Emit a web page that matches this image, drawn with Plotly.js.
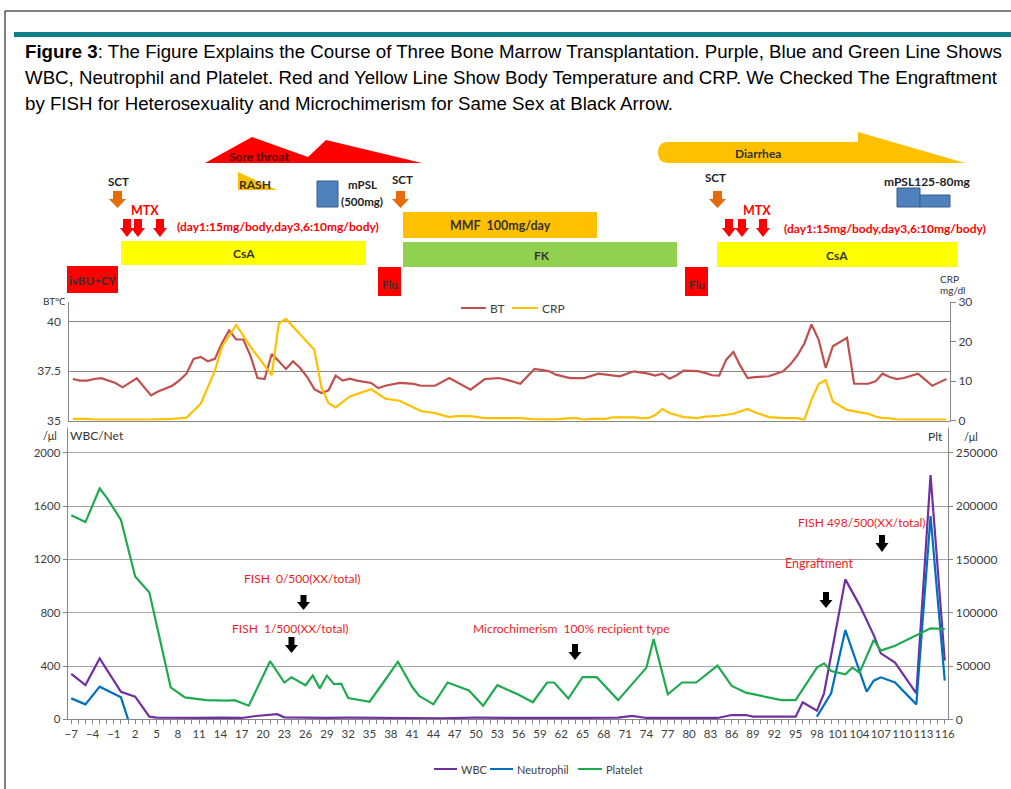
<!DOCTYPE html>
<html><head><meta charset="utf-8">
<script src="https://cdn.plot.ly/plotly-3.0.1.min.js"></script>
<style>html,body{margin:0;padding:0;background:#fff}#chart{width:1011px;height:789px}</style>
</head><body><div id="chart"></div>
<script>
// ---------------- DATA ----------------
// Body temperature (°C), by day after first transplant
const btDays = [-7,-6,-5,-4,-3,-2,-1,0,1,2,3,4,5,6,7,8,9,10,11,12,13,14,15,16,17,18,19,20,21,22,23,24,25,26,27,28,29,30,31,32,33,35,36,37,39,41,42,44,46,49,51,53,54,56,58,60,61,63,65,67,69,70,72,74,75,76,77,78,79,81,82,83,84,85,86,87,88,89,91,92,93,94,95,96,97,98,99,100,101,102,103,104,105,106,107,108,109,110,111,112,113,114,115,116];
const btValues = [37.10,37.02,37.02,37.10,37.14,37.02,36.90,36.68,36.93,37.14,36.70,36.27,36.47,36.61,36.76,37.03,37.37,38.12,38.22,38.00,38.12,38.93,39.56,39.10,39.10,38.29,37.15,37.10,38.37,38.00,37.61,38.00,37.66,37.20,36.59,36.39,36.53,37.27,37.02,37.12,37.02,36.90,36.64,36.76,36.90,36.85,36.76,36.76,37.15,36.56,37.10,37.15,37.07,36.86,37.61,37.50,37.32,37.15,37.15,37.37,37.27,37.24,37.49,37.37,37.27,37.37,37.12,37.29,37.53,37.50,37.41,37.29,37.27,38.08,38.47,37.75,37.15,37.20,37.24,37.36,37.49,37.83,38.29,38.90,39.86,39.10,37.66,38.76,38.97,39.19,36.86,36.86,36.86,36.98,37.37,37.20,37.10,37.15,37.27,37.37,37.07,36.76,36.93,37.10];
// CRP (mg/dl)
const crpDays = [-7,-5,-4,4,7,9,11,13,14,16,18,20,21,22,23,27,28,29,30,32,35,37,39,42,44,46,47,49,51,53,56,58,61,63,64,65,66,68,69,72,73,74,75,76,77,79,81,82,84,86,88,89,91,93,95,96,97,98,99,100,102,104,105,106,107,108,109,111,116];
const crpValues = [0.4,0.4,0.2,0.2,0.4,0.7,4.2,12.6,18.7,24.2,18.7,14.1,11.5,24.6,25.7,17.9,8.4,4.4,3.3,6.1,7.9,5.5,5.0,2.4,1.85,0.84,1.1,1.1,0.6,0.6,0.6,0.3,0.3,0.6,0.6,0.2,0.4,0.4,0.8,0.8,0.6,0.6,1.4,2.9,1.9,0.85,0.6,1.0,1.2,1.7,2.9,2.1,0.85,0.6,0.6,0.2,5.3,9.2,10.2,4.8,2.7,2.0,1.7,1.0,0.6,0.6,0.2,0.2,0.2];
// WBC (/μl)
const wbcDays = [-7,-5,-3,0,2,4,5,8,11,14,17,19,21,22,23,26,29,32,35,40,45,50,55,60,65,70,72,74,80,84,86,88,89,95,96,98,99,102,104,106,107,109,112,114,116];
const wbcValues = [340,257,457,207,170,20,12,10,10,12,10,25,35,38,15,12,10,12,10,12,8,12,10,12,10,12,25,10,10,10,32,32,20,20,127,65,195,1050,857,632,495,425,195,1832,440];
// Neutrophil (/μl); null = not measured / not plotted
const neutDays = [-7,-5,-3,0,1,null,98,100,102,104,105,106,107,109,112,114,116];
const neutValues = [157,112,245,165,0,null,20,195,670,350,207,290,315,277,112,1525,290];
// Platelet (/μl), right axis
const pltDays = [-7,-5,-3,-2,0,2,4,7,9,12,15,16,18,21,23,24,26,27,28,29,30,31,32,35,37,39,41,42,44,46,49,51,53,56,58,60,61,63,65,67,70,74,75,77,79,81,84,86,88,92,93,95,98,99,100,102,103,104,106,107,109,114,116];
const pltValues = [191500,185000,216500,208000,187000,134000,119000,30000,20500,18000,17500,18000,12800,54500,34500,39500,32000,41000,29000,41000,33000,33500,20000,16500,35000,54000,30500,22000,14000,34500,27000,12800,32000,23000,16000,34500,34500,19500,39500,39500,18000,48500,75300,23500,34500,34500,50300,31300,25000,19000,18000,18000,48500,52500,45300,42200,48400,43800,74400,64400,69000,85300,84700];

// Axis tick values / labels
const btTicks = [35, 37.5, 40];
const crpTicks = [0, 10, 20, 30];
const cellTicks = [0, 400, 800, 1200, 1600, 2000];
const pltTicks = [0, 50000, 100000, 150000, 200000, 250000];

// Caption text
const captionLines = [
  "<b>Figure 3</b>: The Figure Explains the Course of Three Bone Marrow Transplantation. Purple, Blue and Green Line Shows",
  "WBC, Neutrophil and Platelet. Red and Yellow Line Show Body Temperature and CRP. We Checked The Engraftment",
  "by FISH for Heterosexuality and Microchimerism for Same Sex at Black Arrow."
];

// ---------------- STYLE / LAYOUT ----------------
const W = 1011, H = 789;
const X = p => p / W;
const Y = p => 1 - p / H;
const CF = 'Lato, "Noto Sans", sans-serif';
const TICK = '#404040';
const AX = '#868686';
const C = {bt:'#C0504D', crp:'#FFC000', wbc:'#7030A0', neut:'#0070C0', plt:'#1FAA50',
  red:'#FF0000', yellow:'#FFFF00', gold:'#FFC000', green:'#92D050', orange:'#E46C0A', blue:'#4F81BD', blueLine:'#385D8A', txtRed:'#EE1C25'};

const shapes = [];
const ann = [];
function line(x0,y0,x1,y1,color,w){ shapes.push({type:'line',xref:'paper',yref:'paper',x0:X(x0),y0:Y(y0),x1:X(x1),y1:Y(y1),line:{color:color,width:w||1}}); }
function rect(x0,y0,x1,y1,fill,lc){ shapes.push({type:'rect',xref:'paper',yref:'paper',x0:X(x0),x1:X(x1),y0:Y(y1),y1:Y(y0),fillcolor:fill,line:{color:lc||fill,width:lc?1:0}}); }
function poly(pts,fill){
  const d = pts.map((p,i)=>(i?'L':'M')+X(p[0]).toFixed(5)+','+Y(p[1]).toFixed(5)).join(' ')+' Z';
  shapes.push({type:'path',xref:'paper',yref:'paper',path:d,fillcolor:fill,line:{width:0}});
}
function arrow(cx,top,headTop,bottom,sw,hw,color){
  poly([[cx-sw/2,top],[cx+sw/2,top],[cx+sw/2,headTop],[cx+hw/2,headTop],[cx,bottom],[cx-hw/2,headTop],[cx-sw/2,headTop]],color);
}
function txt(t,x,y,size,color,opt){
  opt = opt||{};
  ann.push({text:t,xref:'paper',yref:'paper',x:X(x),y:Y(y),xanchor:opt.anchor||'center',yanchor:'middle',showarrow:false,
    font:{family:opt.family||CF,size:size,color:color},align:opt.anchor==='left'?'left':'center'});
}

// page frame & caption
line(5,11,1011,11,'#000',1);
line(5,11,5,789,'#000',1);
rect(14,32,1011,37,'#0E8085');
captionLines.forEach((t,i)=>txt(t,23,[51,77,103][i],18.7,'#000',{anchor:'left',family:'"Liberation Sans", Arial, sans-serif'}));

// timeline: symptoms & treatments
poly([[205,163],[252,137],[308,157],[326,140],[422,163]], C.red);
txt('<b>Sore throat</b>',259,157,12,'#5A0000');
poly([[238,172],[238,190],[277,190]], C.gold);
txt('<b>RASH</b>',255,184,12,'#333');
// Diarrhea arrow with rounded left end
(function(){
  const p = [['M',668,142],['L',858,142],['L',858,132],['L',965,163],['L',668,163]];
  let d = p.map(q=>q[0]+X(q[1]).toFixed(5)+','+Y(q[2]).toFixed(5)).join(' ');
  d += ' Q'+X(658).toFixed(5)+','+Y(163).toFixed(5)+' '+X(658).toFixed(5)+','+Y(153).toFixed(5);
  d += ' Q'+X(658).toFixed(5)+','+Y(142).toFixed(5)+' '+X(668).toFixed(5)+','+Y(142).toFixed(5)+' Z';
  shapes.push({type:'path',xref:'paper',yref:'paper',path:d,fillcolor:C.gold,line:{width:0}});
})();
txt('<b>Diarrhea</b>',758,153,12,'#333');

[[118,181,117.5],[402,180,400.5],[715,177,717.5]].forEach(s=>{
  txt('<b>SCT</b>',s[0],s[1],11.5,'#222');
  arrow(s[2],191,199,208,9,17,C.orange);
});
txt('<b>MTX</b>',145,210,12.5,C.red);
txt('<b>MTX</b>',757,210,12.5,C.red);
[127,138,160,729,742,763].forEach(cx=>arrow(cx,219,228,237,8,14,C.red));
txt('<b>(day1:15mg/body,day3,6:10mg/body)</b>',175,227,12,C.red,{anchor:'left'});
txt('<b>(day1:15mg/body,day3,6:10mg/body)</b>',782,228,12,C.red,{anchor:'left'});

rect(317,181,338,207,C.blue,C.blueLine);
txt('<b>mPSL</b>',362,185,11.5,'#222');
txt('<b>(500mg)</b>',362,201,11.5,'#222');
rect(897,188,920,207,C.blue,C.blueLine);
rect(920,195,950,207,C.blue,C.blueLine);
txt('<b>mPSL125-80mg</b>',927,181,12,'#222');

rect(121,241,366,265,C.yellow); txt('<b>CsA</b>',244,253,12,'#333');
rect(717,242,957,267,C.yellow); txt('<b>CsA</b>',837,255,12,'#333');
rect(403,212,597,238,C.gold); txt('<b>MMF  100mg/day</b>',500,226,12.5,'#333');
rect(403,242,677,267,C.green); txt('<b>FK</b>',542,255,12,'#333');
rect(67,266,118,293,C.red); txt('<b>ivBU+CY</b>',92,280,11.5,'#333');
rect(378,267,401,296,C.red); txt('<b>Flu</b>',390,284,11.5,'#333');
rect(685,267,708,296,C.red); txt('<b>Flu</b>',697,284,11.5,'#333');

// axis unit labels
txt('BT℃',54,301,10,'#333');
txt('CRP',938,279,10,'#333',{anchor:'left'});
txt('mg/dl',938,290,10,'#333',{anchor:'left'});
txt('/μl',50,435,11,'#333');
txt('WBC/Net',97,435,12,'#333');
txt('Plt',935,436,12,'#333');
txt('/μl',971,436,11,'#333');

// legends (drawn manually)
line(461,308,486,308,C.bt,2); txt('BT',488,308,12,TICK,{anchor:'left'});
line(512,308,538,308,C.crp,2); txt('CRP',540,308,12,TICK,{anchor:'left'});
line(434,769,457,769,C.wbc,2); txt('WBC',459,769,11,TICK,{anchor:'left'});
line(490,769,513,769,C.neut,2); txt('Neutrophil',515,769,11,TICK,{anchor:'left'});
line(578,769,602,769,C.plt,2); txt('Platelet',604,769,11,TICK,{anchor:'left'});

// FISH annotations
txt('FISH  0/500(XX/total)',302,578,12,C.txtRed);
txt('FISH  1/500(XX/total)',290,628,12,C.txtRed);
txt('Microchimerism  100% recipient type',571,628,12,C.txtRed);
txt('Engraftment',819,563,12.5,C.txtRed);
txt('FISH 498/500(XX/total)',861,522,12,C.txtRed);
[[303.5,595,602,610],[291.5,637,645,653],[575,644,652,660],[826,592,600,608],[882,535,543,552]].forEach(a=>arrow(a[0],a[1],a[2],a[3],6,13,'#000'));

// ---------------- TRACES ----------------
const traces = [
  {x:btDays,y:btValues,xaxis:'x2',yaxis:'y3',mode:'lines',line:{color:C.bt,width:2.2},name:'BT'},
  {x:crpDays,y:crpValues,xaxis:'x2',yaxis:'y4',mode:'lines',line:{color:C.crp,width:2.2},name:'CRP'},
  {x:wbcDays,y:wbcValues,xaxis:'x',yaxis:'y',mode:'lines',line:{color:C.wbc,width:2.2},name:'WBC'},
  {x:neutDays,y:neutValues,xaxis:'x',yaxis:'y',mode:'lines',line:{color:C.neut,width:2.2},name:'Neutrophil',connectgaps:false},
  {x:pltDays,y:pltValues,xaxis:'x',yaxis:'y2',mode:'lines',line:{color:C.plt,width:2.2},name:'Platelet'}
];

const lowTop = 428, lowBot = 719.3, low2000 = 452.8;
const lowMax = 2000*(lowBot-lowTop)/(lowBot-low2000);
const upTop = 302, upBot = 420.5;
const tf = s => ({family:CF,size:s,color:TICK});

const layout = {
  width:W, height:H, autosize:false, margin:{l:0,r:0,t:0,b:0},
  paper_bgcolor:'#fff', plot_bgcolor:'rgba(0,0,0,0)', showlegend:false, hovermode:false,
  font:{family:CF,color:TICK},
  xaxis:{domain:[X(67.7),X(948.3)], range:[-7.5,116.5], anchor:'y', tick0:-7, dtick:3, tickangle:0, ticks:'outside', ticklen:4, tickcolor:AX,
    minor:{tick0:-7,dtick:1,ticks:'outside',ticklen:4,tickcolor:AX,showgrid:false},
    showline:true, linecolor:AX, linewidth:1, showgrid:false, zeroline:false, tickfont:tf(11.5)},
  yaxis:{domain:[Y(lowBot),Y(lowTop)], range:[0,lowMax], anchor:'x', tickvals:cellTicks, ticks:'outside', ticklen:4, tickcolor:AX,
    showline:true, linecolor:AX, showgrid:true, gridcolor:'#A6A6A6', gridwidth:1, zeroline:false, tickfont:tf(11.5)},
  yaxis2:{overlaying:'y', side:'right', anchor:'x', range:[0,lowMax*125], tickvals:pltTicks, tickformat:'d', ticks:'outside', ticklen:4, tickcolor:AX,
    showline:true, linecolor:AX, showgrid:false, zeroline:false, tickfont:tf(12)},
  xaxis2:{domain:[X(69.3),X(950)], range:[-7.5,116.5], anchor:'y3', showticklabels:false, ticks:'', showline:true, linecolor:AX, showgrid:false, zeroline:false},
  yaxis3:{domain:[Y(upBot),Y(upTop)], range:[35,41], anchor:'x2', tickvals:btTicks, ticktext:btTicks.map(String), ticks:'outside', ticklen:5, tickcolor:'rgba(0,0,0,0)',
    showline:true, linecolor:AX, showgrid:true, gridcolor:AX, zeroline:false, tickfont:tf(12)},
  yaxis4:{overlaying:'y3', side:'right', anchor:'x2', range:[0,30], tickvals:crpTicks, ticks:'outside', ticklen:5, tickcolor:AX,
    showline:true, linecolor:AX, showgrid:false, zeroline:false, tickfont:tf(12)},
  shapes:shapes, annotations:ann
};

Plotly.newPlot('chart', traces, layout, {staticPlot:true, displayModeBar:false});
</script>
</body></html>
